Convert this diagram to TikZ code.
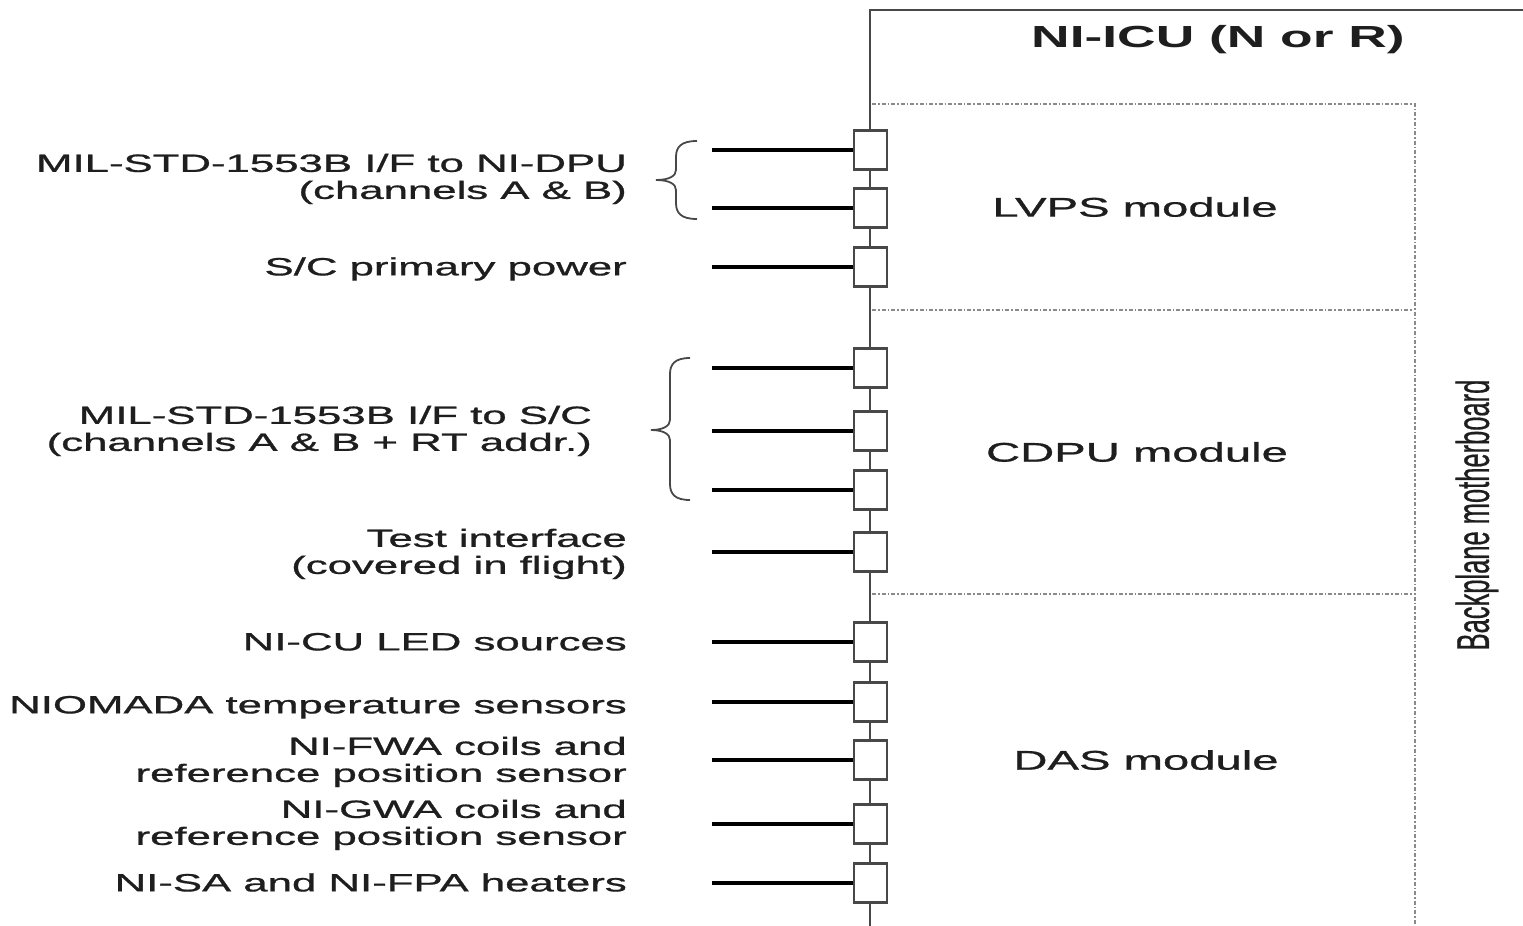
\documentclass[tikz,border=0pt]{standalone}
\usepackage{fontspec}
\setmainfont{Liberation Sans}[UprightFeatures={FakeBold=0.7}]
\usepackage{graphicx}
\newcommand{\mywide}[1]{\scalebox{1.75}[1]{#1}}
\newcommand{\mylines}[1]{\mywide{\begin{tabular}{@{}r@{}}#1\end{tabular}}}
\definecolor{txt}{HTML}{1E1E1E}
\definecolor{bus}{HTML}{484848}
\definecolor{dsh}{HTML}{8A8A8A}
\begin{document}
\begin{tikzpicture}[x=1pt,y=-1pt,
  lbl/.style={anchor=east,inner sep=0pt,text=txt,font=\fontsize{25}{27}\selectfont},
  modlbl/.style={inner sep=0pt,text=txt,font=\fontsize{27}{30}\selectfont},
  conbox/.style={draw=bus,line width=2.2pt,fill=white,minimum width=33pt,minimum height=39pt,inner sep=0pt},
  wire/.style={line width=3.5pt,black},
  busline/.style={line width=2.4pt,bus},
  sep/.style={dsh,line width=1.8pt,dash pattern=on 4pt off 2pt on 1.5pt off 2pt},
  bracestyle/.style={line width=1.8pt,bus}]
\useasboundingbox (0,0) rectangle (1523,926);
% outer box
\coordinate (top) at (870,10);
\coordinate (topr) at (1523,10);
\coordinate (bot) at (870,926);
\draw[busline] (topr) -- (top) -- (bot);
% dashed inner module frame
\coordinate (dtl) at (872,104);
\coordinate (dtr) at (1415,104);
\coordinate (dbr) at (1415,926);
\draw[sep] (dtl) -- (dtr) -- (dbr);
\coordinate (s1l) at (872,310); \coordinate (s1r) at (1413,310);
\coordinate (s2l) at (872,594); \coordinate (s2r) at (1413,594);
\draw[sep] (s1l) -- (s1r);
\draw[sep] (s2l) -- (s2r);
% title and module labels
\node[inner sep=0pt,text=txt,font=\fontsize{30.5}{34}\selectfont\bfseries] (title) at (1218,40) {\mywide{NI-ICU (N or R)}};
\node[modlbl] (lvps) at (1135,207) {\mywide{LVPS module}};
\node[modlbl] (cdpu) at (1137,452) {\mywide{CDPU module}};
\node[modlbl] (das) at (1146,760) {\mywide{DAS module}};
\node[rotate=90,inner sep=0pt,text=txt,font=\fontsize{25.5}{27}\selectfont] (bp) at (1477,515) {\scalebox{1}[1.8]{Backplane motherboard}};
% connectors
\foreach \i/\y in {1/150,2/208,3/267,4/368,5/431,6/490,7/552,8/642,9/702,10/760,11/824,12/883}{
  \coordinate (p\i) at (712,\y);
  \node[conbox] (c\i) at (870.5,\y) {};
  \draw[wire] (p\i) -- (c\i.west);
}
% braces
\coordinate (b1t) at (697,141);
\coordinate (b1tip) at (656,180);
\coordinate (b1b) at (697,219);
\draw[bracestyle] (b1t) .. controls (681,141) and (676,147) .. (676,157) -- (676,170)
  .. controls (676,176) and (669,180) .. (b1tip)
  .. controls (669,180) and (676,184) .. (676,190) -- (676,203)
  .. controls (676,213) and (681,219) .. (b1b);
\coordinate (b2t) at (690,358);
\coordinate (b2tip) at (651,430);
\coordinate (b2b) at (690,500);
\draw[bracestyle] (b2t) .. controls (675,358) and (670,364) .. (670,374) -- (670,420)
  .. controls (670,426) and (663,430) .. (b2tip)
  .. controls (663,430) and (670,434) .. (670,440) -- (670,484)
  .. controls (670,494) and (675,500) .. (b2b);
% labels
\node[lbl] (l1) at (627,180) {\mylines{MIL-STD-1553B I/F to NI-DPU\\(channels A \& B)}};
\node[lbl] (l2) at (627,270) {\mylines{S/C primary power}};
\node[lbl] (l3) at (592,432) {\mylines{MIL-STD-1553B I/F to S/C\\(channels A \& B + RT addr.)}};
\node[lbl] (l4) at (627,555) {\mylines{Test interface\\(covered in flight)}};
\node[lbl] (l5) at (627,645) {\mylines{NI-CU LED sources}};
\node[lbl] (l6) at (627,708) {\mylines{NIOMADA temperature sensors}};
\node[lbl] (l7) at (627,763) {\mylines{NI-FWA coils and\\reference position sensor}};
\node[lbl] (l8) at (627,826) {\mylines{NI-GWA coils and\\reference position sensor}};
\node[lbl] (l9) at (627,886) {\mylines{NI-SA and NI-FPA heaters}};
\end{tikzpicture}
\end{document}
